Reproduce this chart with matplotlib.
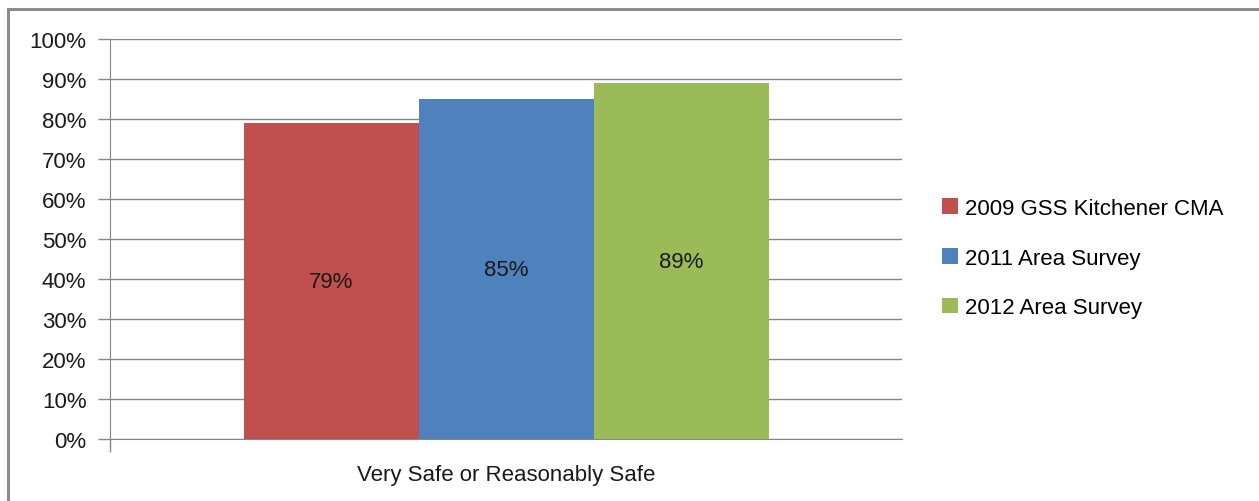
import numpy as np
import matplotlib.pyplot as plt
from matplotlib.patches import Rectangle

# survey results
category = "Very Safe or Reasonably Safe"
series = ["2009 GSS Kitchener CMA", "2011 Area Survey", "2012 Area Survey"]
values = [79, 85, 89]
colors = ["#C0504D", "#4F81BD", "#9BBB59"]
yticks = [0, 10, 20, 30, 40, 50, 60, 70, 80, 90, 100]

plt.rcParams["font.family"] = ["Liberation Sans", "DejaVu Sans"]
fs = 16

fig = plt.figure(figsize=(12.59, 5.02), dpi=100)

# outer frame (only top and left edges fall inside the image)
fig.patches.append(Rectangle((8 / 1259, -0.1), 1.2, 1 - 10 / 502 + 0.1,
                             transform=fig.transFigure, fill=False,
                             edgecolor="#8c8c8c", linewidth=2.2))

ax = fig.add_axes([110 / 1259, 62 / 502, 792 / 1259, 400 / 502])

x = np.arange(len(values)) - 1
bars = ax.bar(x, values, width=1.0, color=colors, label=series, zorder=3)
ax.bar_label(bars, labels=[f"{v}%" for v in values], label_type="center",
             fontsize=fs, color="#1a1a1a")

half = 792 / 175 / 2
ax.set_xlim(-half, half)
ax.set_ylim(0, 100)
ax.set_yticks(yticks)
ax.set_yticklabels([f"{t}%" for t in yticks], fontsize=fs, color="#1a1a1a")
ax.set_xticks([-half])
ax.set_xticklabels([])
ax.tick_params(axis="both", direction="out", length=9, width=1, color="#868686", pad=8)
ax.yaxis.grid(True, color="#868686", linewidth=1, zorder=0)
ax.set_axisbelow(True)

for s in ["top", "right"]:
    ax.spines[s].set_visible(False)
for s in ["left", "bottom"]:
    ax.spines[s].set_color("#868686")

ax.text(0.5, -0.09, category, transform=ax.transAxes, ha="center", va="center",
        fontsize=fs, color="#1a1a1a")

fig.legend(handles=bars, labels=series, loc="center left",
           bbox_to_anchor=(922 / 1259, 1 - 259 / 502), frameon=False,
           fontsize=fs, handlelength=0.7, handleheight=0.7,
           handletextpad=0.35, labelspacing=1.3)

fig.savefig("out.png", dpi=100)
